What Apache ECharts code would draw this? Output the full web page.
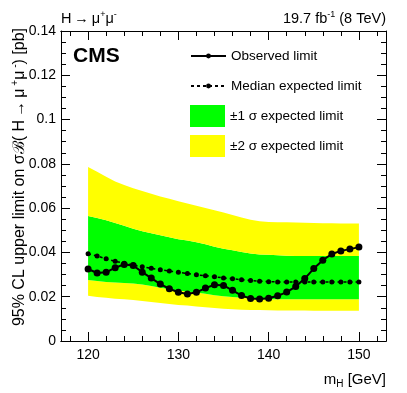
<!DOCTYPE html>
<html>
<head>
<meta charset="utf-8">
<script src="https://cdn.jsdelivr.net/npm/echarts@6/dist/echarts.min.js"></script>
<style>
html, body { margin: 0; padding: 0; background: #fff; }
#main { width: 407px; height: 393px; }
</style>
</head>
<body>
<div id="main"></div>
<script>
var myChart = echarts.init(document.getElementById('main'));
var font = "'Liberation Sans', Arial, Helvetica, sans-serif";

// Higgs mass points [GeV]
var masses = [120, 121, 122, 123, 124, 125, 126, 127, 128, 129, 130, 131, 132, 133, 134, 135,
	136, 137, 138, 139, 140, 141, 142, 143, 144, 145, 146, 147, 148, 149, 150];
// 95% CL limits [pb]
var observed = [0.0325, 0.0307, 0.0310, 0.0331, 0.0346, 0.0341, 0.0311, 0.0284, 0.0257, 0.0236, 0.0220,
	0.0212, 0.0220, 0.0239, 0.0254, 0.0251, 0.0229, 0.0205, 0.0192, 0.0190, 0.0193, 0.0204, 0.0221,
	0.0246, 0.0282, 0.0327, 0.0365, 0.0393, 0.0407, 0.0415, 0.0424];
var expected = [0.0394, 0.0384, 0.0371, 0.0360, 0.0351, 0.0343, 0.0335, 0.0328, 0.0322, 0.0316, 0.0310,
	0.0305, 0.0299, 0.0295, 0.0290, 0.0285, 0.0281, 0.0277, 0.0273, 0.0270, 0.0268, 0.0267, 0.0266,
	0.0266, 0.0266, 0.0266, 0.0266, 0.0266, 0.0266, 0.0266, 0.0267];
var minus2 = [0.0204, 0.0199, 0.0195, 0.0191, 0.0188, 0.0185, 0.0181, 0.0176, 0.0172, 0.0167, 0.0163,
	0.0160, 0.0156, 0.0152, 0.0149, 0.0146, 0.0143, 0.0141, 0.0140, 0.0140, 0.0139, 0.0138, 0.0138,
	0.0138, 0.0138, 0.0137, 0.0137, 0.0137, 0.0137, 0.0137, 0.0137];
var minus1 = [0.0275, 0.0271, 0.0267, 0.0264, 0.0262, 0.0260, 0.0255, 0.0248, 0.0241, 0.0234, 0.0228,
	0.0224, 0.0219, 0.0213, 0.0207, 0.0202, 0.0199, 0.0195, 0.0192, 0.0189, 0.0188, 0.0188, 0.0188,
	0.0188, 0.0188, 0.0188, 0.0188, 0.0188, 0.0188, 0.0188, 0.0188];
var plus1 = [0.0564, 0.0555, 0.0545, 0.0533, 0.0520, 0.0507, 0.0496, 0.0487, 0.0478, 0.0468, 0.0460,
	0.0454, 0.0446, 0.0437, 0.0426, 0.0417, 0.0410, 0.0402, 0.0395, 0.0391, 0.0389, 0.0387, 0.0385,
	0.0384, 0.0384, 0.0384, 0.0384, 0.0384, 0.0384, 0.0384, 0.0384];
var plus2 = [0.0786, 0.0764, 0.0742, 0.0720, 0.0704, 0.0690, 0.0677, 0.0665, 0.0653, 0.0642, 0.0631,
	0.0621, 0.0611, 0.0601, 0.0590, 0.0580, 0.0569, 0.0558, 0.0548, 0.0541, 0.0537, 0.0536, 0.0536,
	0.0535, 0.0534, 0.0533, 0.0532, 0.0532, 0.0531, 0.0531, 0.0531];

// tick positions
var xMajor = [120, 130, 140, 150];
var xMinor = [118, 122, 124, 126, 128, 132, 134, 136, 138, 142, 144, 146, 148, 152];

function pairs(vals) {
	return masses.map(function (m, i) { return [m, vals[i]]; });
}
// band pieces: value first so the stack works on y
function diff(hi, lo) {
	return masses.map(function (m, i) { return [+(hi[i] - lo[i]).toFixed(5), m]; });
}

function xAxisDef(pos, ticks, len, labels) {
	return {
		type: 'value', min: 117, max: 153, position: pos,
		axisLine: { show: true, onZero: false, lineStyle: { color: '#000', width: 1 } },
		axisTick: { show: true, inside: true, length: len, customValues: ticks, lineStyle: { color: '#000' } },
		axisLabel: labels ? { show: true, customValues: xMajor, margin: 7, fontSize: 14, color: '#000', fontFamily: font } : { show: false },
		splitLine: { show: false }
	};
}
function yAxisDef(pos, labels) {
	return {
		type: 'value', min: 0, max: 0.14, interval: 0.02, position: pos,
		axisLine: { show: true, onZero: false, lineStyle: { color: '#000', width: 1 } },
		axisTick: { show: true, inside: true, length: 9, lineStyle: { color: '#000' } },
		minorTick: { show: true, splitNumber: 4, length: 5, lineStyle: { color: '#000' } },
		axisLabel: labels ? { show: true, margin: 5, fontSize: 14, color: '#000', fontFamily: font } : { show: false },
		splitLine: { show: false },
		minorSplitLine: { show: false }
	};
}

function band(name, data, color) {
	return {
		name: name, type: 'line', data: data, encode: { x: 1, y: 0 },
		stack: 'band', symbol: 'none', silent: true,
		lineStyle: { width: 0, opacity: 0 },
		itemStyle: { color: color || '#fff' },
		areaStyle: color ? { color: color, opacity: 1 } : undefined
	};
}

option = {
	animation: false,
	backgroundColor: '#fff',
	grid: { left: 61, right: 21, top: 31, bottom: 52 },
	xAxis: [
		xAxisDef('bottom', xMajor, 9, true),
		xAxisDef('bottom', xMinor, 5, false),
		xAxisDef('top', xMajor, 9, false),
		xAxisDef('top', xMinor, 5, false)
	],
	yAxis: [yAxisDef('left', true), yAxisDef('right', false)],
	legend: [{
		data: ['Observed limit', 'Median expected limit'],
		orient: 'vertical', left: 190, top: 49, padding: 0,
		itemWidth: 35, itemHeight: 6, itemGap: 16,
		selectedMode: false,
		textStyle: { fontSize: 13.5, color: '#000', fontFamily: font }
	}, {
		data: [
			{ name: '±1 σ expected limit', icon: 'rect', itemStyle: { color: '#00ff00' } },
			{ name: '±2 σ expected limit', icon: 'rect', itemStyle: { color: '#ffff00' } }
		],
		orient: 'vertical', left: 190, top: 105, padding: 0,
		itemWidth: 35, itemHeight: 22, itemGap: 8,
		selectedMode: false,
		textStyle: { fontSize: 13.5, color: '#000', fontFamily: font }
	}],
	series: [
		band('base', diff(minus2, masses.map(function () { return 0; }))),
		band('±2 σ expected limit', diff(minus1, minus2), '#ffff00'),
		band('±1 σ expected limit', diff(plus1, minus1), '#00ff00'),
		band('±2 σ expected limit', diff(plus2, plus1), '#ffff00'),
		{
			name: 'Median expected limit', type: 'line', data: pairs(expected),
			symbol: 'circle', symbolSize: 5, z: 5,
			itemStyle: { color: '#000' },
			lineStyle: { color: '#000', width: 1.5, type: [3, 3] }
		},
		{
			name: 'Observed limit', type: 'line', data: pairs(observed),
			symbol: 'circle', symbolSize: 7, z: 6,
			itemStyle: { color: '#000' },
			lineStyle: { color: '#000', width: 2 }
		}
	],
	graphic: [
		{ type: 'text', x: 61, y: 18, style: {
			text: '{n|H\u2009→\u2009μ}{s|+}{n|μ}{s|-}', verticalAlign: 'middle', fill: '#000',
			rich: { n: { fontSize: 14.5, fontFamily: font, lineHeight: 16, verticalAlign: 'bottom' },
				s: { fontSize: 9, fontFamily: font, lineHeight: 9, verticalAlign: 'top' } } } },
		{ type: 'text', x: 386, y: 18, style: {
			text: '{n|19.7 fb}{s|-1}{n| (8 TeV)}', align: 'right', verticalAlign: 'middle', fill: '#000',
			rich: { n: { fontSize: 14.5, fontFamily: font, lineHeight: 16, verticalAlign: 'bottom' },
				s: { fontSize: 9, fontFamily: font, lineHeight: 9, verticalAlign: 'top' } } } },
		{ type: 'text', x: 73, y: 56, style: {
			text: 'CMS', fontSize: 21, fontWeight: 'bold', fontFamily: font, fill: '#000', verticalAlign: 'middle' } },
		{ type: 'text', x: 19, y: 28, rotation: Math.PI / 2, style: {
			text: '{n|95% CL upper limit on σℬ( H\u2009→\u2009μ}{s| +}{n|μ}{s| -}{n|) [pb]}',
			align: 'right', verticalAlign: 'middle', fill: '#000',
			rich: { n: { fontSize: 16, fontFamily: font, lineHeight: 18, verticalAlign: 'bottom' },
				s: { fontSize: 10, fontFamily: font, lineHeight: 10, verticalAlign: 'top' } } } },
		{ type: 'text', x: 386, y: 381, style: {
			text: '{n|m}{b|H}{n| [GeV]}', align: 'right', verticalAlign: 'middle', fill: '#000',
			rich: { n: { fontSize: 15, fontFamily: font, lineHeight: 17, verticalAlign: 'top' },
				b: { fontSize: 10, fontFamily: font, lineHeight: 10, verticalAlign: 'bottom' } } } }
	]
};
myChart.setOption(option);
</script>
</body>
</html>
